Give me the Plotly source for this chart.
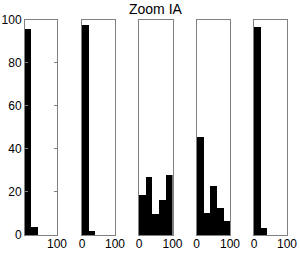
import plotly.graph_objects as go

bin_centers = [10, 30, 50, 70, 90]
bin_width = 20
zoom_1 = [96, 4, 0, 0, 0]
zoom_2 = [97.7, 2.3, 0, 0, 0]
zoom_3 = [18.6, 27, 10, 16.3, 28]
zoom_4 = [45.7, 10.5, 22.8, 12.7, 6.7]
zoom_5 = [96.6, 3.4, 0, 0, 0]
series = [zoom_1, zoom_2, zoom_3, zoom_4, zoom_5]
title_text = "Zoom IA"
y_ticks = [0, 20, 40, 60, 80, 100]

W, H = 300, 253
x_px = [(25, 57), (82, 115), (139, 172.5), (196.7, 230), (254, 287)]
y_top, y_bot = 19.5, 235

fig = go.Figure()
font = dict(family="Liberation Sans, Arial, sans-serif", size=12, color="black")
frame = "#808080"

for i, vals in enumerate(series):
    n = i + 1
    xa = "x" if n == 1 else f"x{n}"
    ya = "y" if n == 1 else f"y{n}"
    fig.add_trace(go.Bar(x=bin_centers, y=vals, width=[bin_width] * len(vals),
                         marker=dict(color="black", line=dict(width=0)),
                         xaxis=xa, yaxis=ya, showlegend=False))
    xkey = "xaxis" if n == 1 else f"xaxis{n}"
    ykey = "yaxis" if n == 1 else f"yaxis{n}"
    fig.layout[xkey] = dict(domain=[x_px[i][0] / W, x_px[i][1] / W], range=[0, 100],
                            anchor=ya, showline=True, mirror=True, linecolor=frame,
                            linewidth=1, showgrid=False, zeroline=False,
                            tickvals=[100] if n == 1 else [0, 100], ticks="",
                            tickfont=font, automargin=False, ticklabelstandoff=-2)
    ydict = dict(domain=[(H - y_bot) / H, (H - y_top) / H], range=[0, 100],
                 anchor=xa, showline=True, linecolor=frame, linewidth=1,
                 showgrid=False, zeroline=False, tickfont=font, automargin=False)
    if n == 1:
        ydict.update(mirror="ticks", tickvals=y_ticks, ticks="inside", ticklen=3,
                     tickcolor=frame)
    else:
        ydict.update(mirror=True, showticklabels=False, ticks="")
    fig.layout[ykey] = ydict

fig.add_annotation(text=title_text, x=156 / W, y=(H - 9) / H, xref="paper", yref="paper",
                   showarrow=False, xanchor="center", yanchor="middle",
                   font=dict(family="Liberation Sans, Arial, sans-serif", size=14, color="black"))

fig.update_layout(width=W, height=H, margin=dict(l=0, r=0, t=0, b=0),
                  paper_bgcolor="white", plot_bgcolor="white", bargap=0)
fig.write_html("out.html", config={"displayModeBar": False},
               post_script="document.body.style.margin='0';document.body.style.overflow='hidden';")
